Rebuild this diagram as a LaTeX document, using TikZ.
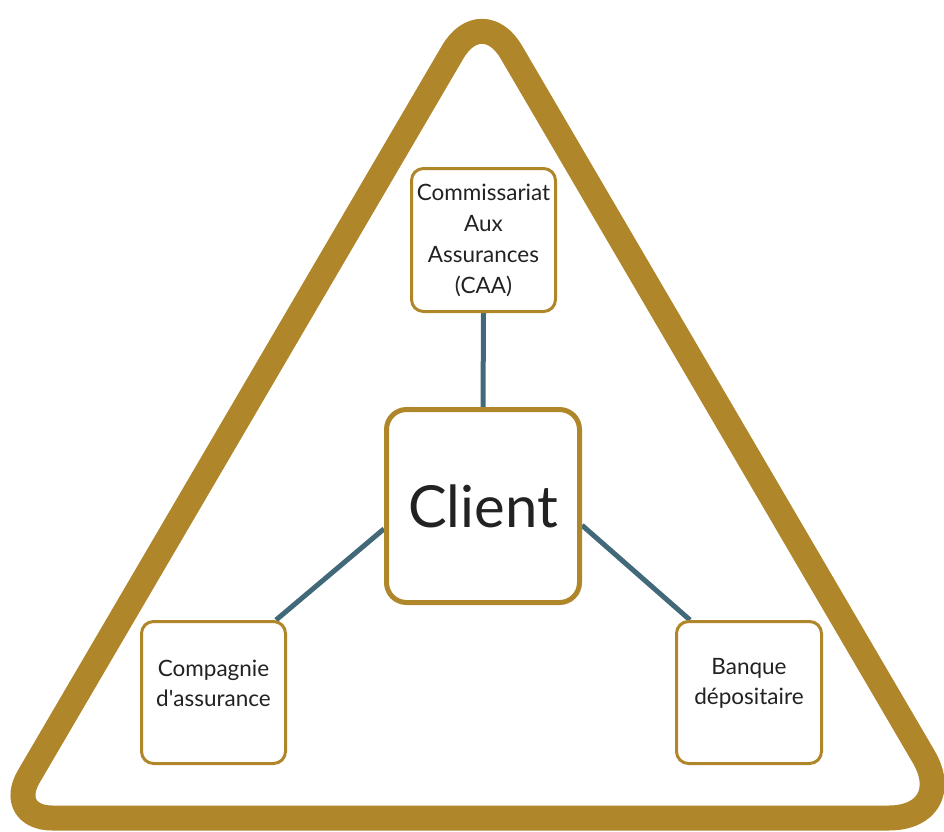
\documentclass[tikz,border=0pt]{standalone}
\usepackage{fontspec}
\setmainfont{Lato}
\usetikzlibrary{calc,backgrounds}
\definecolor{gold}{HTML}{B0862A}
\definecolor{linkc}{HTML}{42697A}
\definecolor{ink}{HTML}{222222}
\begin{document}
\begin{tikzpicture}[x=1pt,y=-1pt,
  tri/.style={draw=gold,line width=25pt,line join=round},
  box/.style={draw=gold,line width=3pt,rounded corners=12pt,fill=white,inner sep=0pt,align=center,text=ink},
  linkline/.style={draw=linkc,line width=5pt},
  lbl/.style={font=\fontsize{22.5}{30}\selectfont,align=center,text=ink,inner sep=0pt}]
\useasboundingbox (0,0) rectangle (944,831);
\draw[tri] (482,818) [rounded corners=48pt] -- (4.5,818) [rounded corners=58pt] -- (482,2) [rounded corners=71pt] -- (959.5,818) -- cycle;
\node[box,minimum width=144pt,minimum height=143pt,font=\fontsize{22.5}{31}\selectfont] (caa) at (483.5,240) {Commissariat\\Aux\\Assurances\\(CAA)};
\node[box,line width=5pt,rounded corners=20pt,minimum size=193pt,font=\fontsize{58}{62}\selectfont] (client) at (483,506) {Client};
\node[box,minimum width=144pt,minimum height=142pt] (comp) at (213.5,692.5) {};
\node[lbl] (compT) at ([yshift=9.5pt]comp.center) {Compagnie\\d\textquotesingle assurance};
\node[box,minimum width=145pt,minimum height=142pt] (bank) at (749,692.5) {};
\node[lbl] (bankT) at ([yshift=9.5pt]bank.center) {Banque\\dépositaire};
\begin{scope}[on background layer]
\draw[linkline] (caa.south) -- (client.north);
\draw[linkline] (client.193) -- ($(comp.north east)+(-11,0)$);
\draw[linkline] (client.-11) -- ($(bank.north west)+(15,0)$);
\end{scope}
\end{tikzpicture}
\end{document}
